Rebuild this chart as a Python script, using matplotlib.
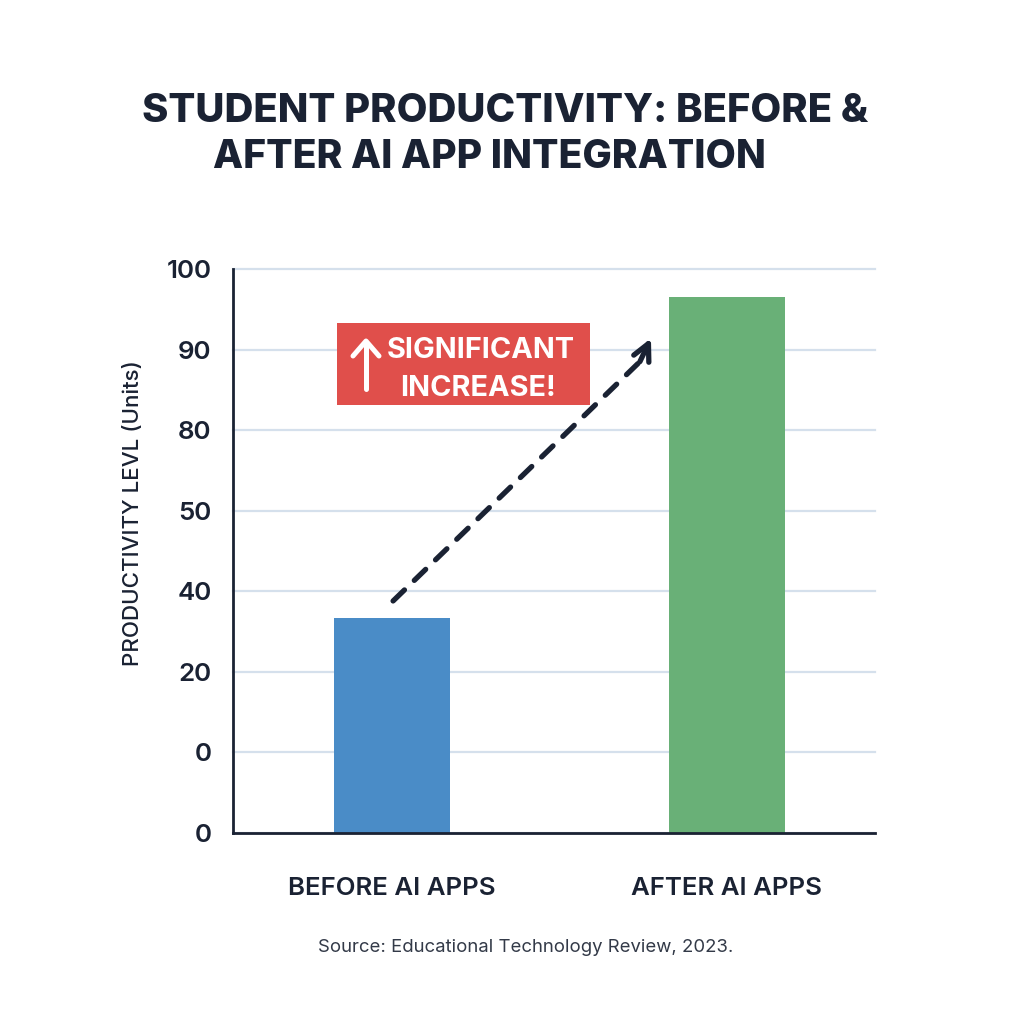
import matplotlib
matplotlib.use('Agg')
import matplotlib.pyplot as plt
from matplotlib.patches import Rectangle

plt.rcParams['font.family'] = ['Inter', 'DejaVu Sans']

categories = ['BEFORE AI APPS', 'AFTER AI APPS']
# the tick labels are not evenly valued in the picture, so bars sit on tick slots
tick_labels = ['0', '0', '20', '40', '50', '80', '90', '100']
tick_slots = [0, 1, 2, 3, 4, 5, 6, 7]
bar_slots = [0, 1]
bar_values = [2.67, 6.65]
bar_colors = ['#4a8cc7', '#69b077']
arrow_start = (0.003, 2.88)
arrow_end = (0.773, 6.14)
arrow_neck = (0.74, 5.85)

dark = '#1a2233'


def px(x, y):
    return x / 1024, 1 - y / 1024


fig = plt.figure(figsize=(10.24, 10.24), dpi=100)
ax = fig.add_axes([233 / 1024, 1 - 833 / 1024, 642 / 1024, 564 / 1024])

ax.bar(bar_slots, bar_values, width=0.346, color=bar_colors, zorder=2)
ax.set_xlim(-0.475, 1.442)
ax.set_ylim(0, 7)

ax.set_yticks(tick_slots)
ax.set_yticklabels(tick_labels, fontsize=18.7, fontweight='semibold', color=dark)
ax.set_xticks(bar_slots)
ax.set_xticklabels(categories, fontsize=18.6, fontweight='semibold', color=dark)
ax.tick_params(axis='both', length=0)
ax.tick_params(axis='y', pad=15.5)
ax.tick_params(axis='x', pad=32)

ax.grid(axis='y', color='#d5e0ec', lw=1.6, zorder=0)
ax.set_axisbelow(True)
for line in ax.get_ygridlines():
    line.set_clip_on(False)
for s in ['top', 'right']:
    ax.spines[s].set_visible(False)
for s in ['left', 'bottom']:
    ax.spines[s].set_color(dark)
    ax.spines[s].set_linewidth(2)

ax.set_ylabel('PRODUCTIVITY LEVL (Units)', fontsize=16.1, fontweight='medium', color=dark,
              va='center', y=0.567)
ax.yaxis.set_label_coords((133 - 233) / 642, 0.567)

# dashed shaft and solid head are drawn apart so the head is not cut by the dashes
ax.annotate('', xy=arrow_neck, xytext=arrow_start, zorder=5,
            arrowprops=dict(arrowstyle='-', color=dark, lw=3.8,
                            linestyle=(0, (3, 2.6)), shrinkA=0, shrinkB=0))
ax.annotate('', xy=arrow_end, xytext=arrow_neck, zorder=5,
            arrowprops=dict(arrowstyle='->', mutation_scale=30, color=dark, lw=3.8,
                            shrinkA=0, shrinkB=0))

# red callout box with its white arrow and text
fig.add_artist(Rectangle(px(337, 405), 253 / 1024, 82 / 1024, transform=fig.transFigure,
                         fc='#e04f4b', ec='none', zorder=4))
fig.add_artist(plt.Line2D([px(366, 0)[0]] * 2, [px(0, 389)[1], px(0, 342)[1]], color='white',
                          lw=3.6, solid_capstyle='round', zorder=5))
fig.add_artist(plt.Line2D([px(353, 0)[0], px(366, 0)[0], px(379, 0)[0]],
                          [px(0, 356)[1], px(0, 341)[1], px(0, 356)[1]], color='white',
                          lw=3.6, solid_capstyle='round', solid_joinstyle='round', zorder=5))
fig.text(*px(481, 350), 'SIGNIFICANT', ha='center', va='center', fontsize=20.8,
         fontweight='bold', color='white', zorder=6)
fig.text(*px(478, 388), 'INCREASE!', ha='center', va='center', fontsize=20.8,
         fontweight='bold', color='white', zorder=6)

fig.text(*px(505, 111), 'STUDENT PRODUCTIVITY: BEFORE &', ha='center', va='center',
         fontsize=28.8, fontweight='heavy', color=dark)
fig.text(*px(489, 157), 'AFTER AI APP INTEGRATION', ha='center', va='center',
         fontsize=28.2, fontweight='heavy', color=dark)
fig.text(*px(526, 947), 'Source: Educational Technology Review, 2023.', ha='center', va='center',
         fontsize=13.35, color='#333a48')

fig.savefig('out.png', dpi=100)
